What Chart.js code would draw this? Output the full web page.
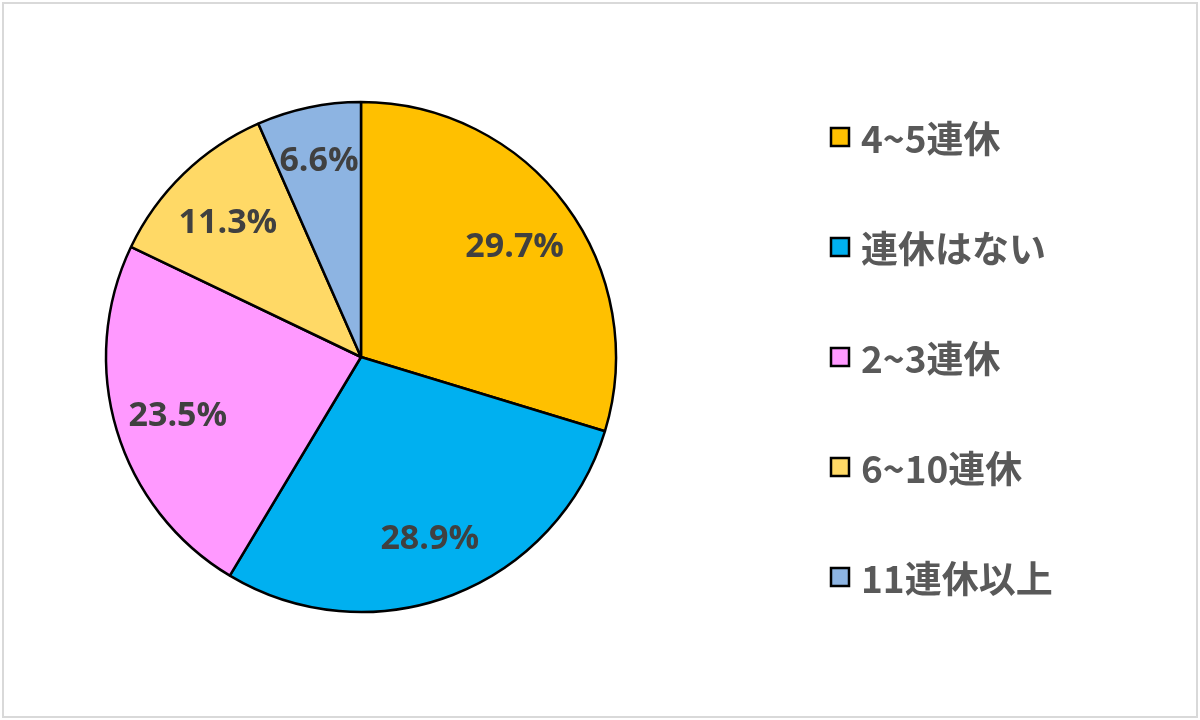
<!DOCTYPE html>
<html>
<head>
<meta charset="utf-8">
<script src="https://cdn.jsdelivr.net/npm/chart.js@4"></script>
<style>
    html, body { margin: 0; padding: 0; background: #fff; }
    #wrap { position: relative; width: 1200px; height: 720px; }
    #frame { position: absolute; left: 2px; top: 2px; right: 2px; bottom: 2px; border: 2px solid #d9d9d9; pointer-events: none; }
</style>
</head>
<body>
<div id="wrap">
    <canvas id="pieChart" width="1200" height="720"></canvas>
    <div id="frame"></div>
</div>
<script>
// ========================================
// Data
// ========================================
const categories = ['4~5連休', '連休はない', '2~3連休', '6~10連休', '11連休以上'];
const shares = [29.7, 28.9, 23.5, 11.3, 6.6];
const sliceColors = ['#FFC000', '#00B0F0', '#FF99FF', '#FFD966', '#8DB4E2'];

const LABEL_FONT = 'bold 34px "Open Sans", "Noto Sans CJK JP", sans-serif';
const LEGEND_FONT = 'bold 37px "Noto Sans CJK JP", "Open Sans", sans-serif';

// Percent labels inside the slices
const sliceLabels = {
    id: 'sliceLabels',
    afterDatasetsDraw(chart) {
        const ctx = chart.ctx;
        const meta = chart.getDatasetMeta(0);
        ctx.save();
        ctx.font = LABEL_FONT;
        ctx.fillStyle = '#404040';
        ctx.textAlign = 'center';
        ctx.textBaseline = 'middle';
        meta.data.forEach((arc, i) => {
            const mid = (arc.startAngle + arc.endAngle) / 2;
            const frac = shares[i] < 8 ? 0.8 : 0.75;
            const r = arc.outerRadius * frac;
            ctx.fillText(shares[i].toFixed(1) + '%', arc.x + Math.cos(mid) * r, arc.y + Math.sin(mid) * r + 4);
        });
        ctx.restore();
    }
};

// Legend on the right, one row every 110px
const sideLegend = {
    id: 'sideLegend',
    afterDraw(chart) {
        const ctx = chart.ctx;
        ctx.save();
        ctx.font = LEGEND_FONT;
        ctx.textBaseline = 'middle';
        categories.forEach((name, i) => {
            const y = 137 + i * 110;
            ctx.fillStyle = sliceColors[i];
            ctx.fillRect(831, y - 9, 18, 18);
            ctx.lineWidth = 2.5;
            ctx.strokeStyle = '#000';
            ctx.strokeRect(831, y - 9, 18, 18);
            ctx.fillStyle = '#595959';
            ctx.fillText(name, 861, y + 2);
        });
        ctx.restore();
    }
};

const chart = new Chart(document.getElementById('pieChart'), {
    type: 'pie',
    data: {
        labels: categories,
        datasets: [{
            data: shares,
            backgroundColor: sliceColors,
            borderColor: '#000',
            borderWidth: 2.5,
            radius: 255
        }]
    },
    options: {
        responsive: false,
        animation: false,
        layout: {
            padding: { left: 101, right: 579, top: 97, bottom: 103 }
        },
        plugins: {
            legend: { display: false },
            tooltip: { enabled: false }
        }
    },
    plugins: [sliceLabels, sideLegend]
});
</script>
</body>
</html>
